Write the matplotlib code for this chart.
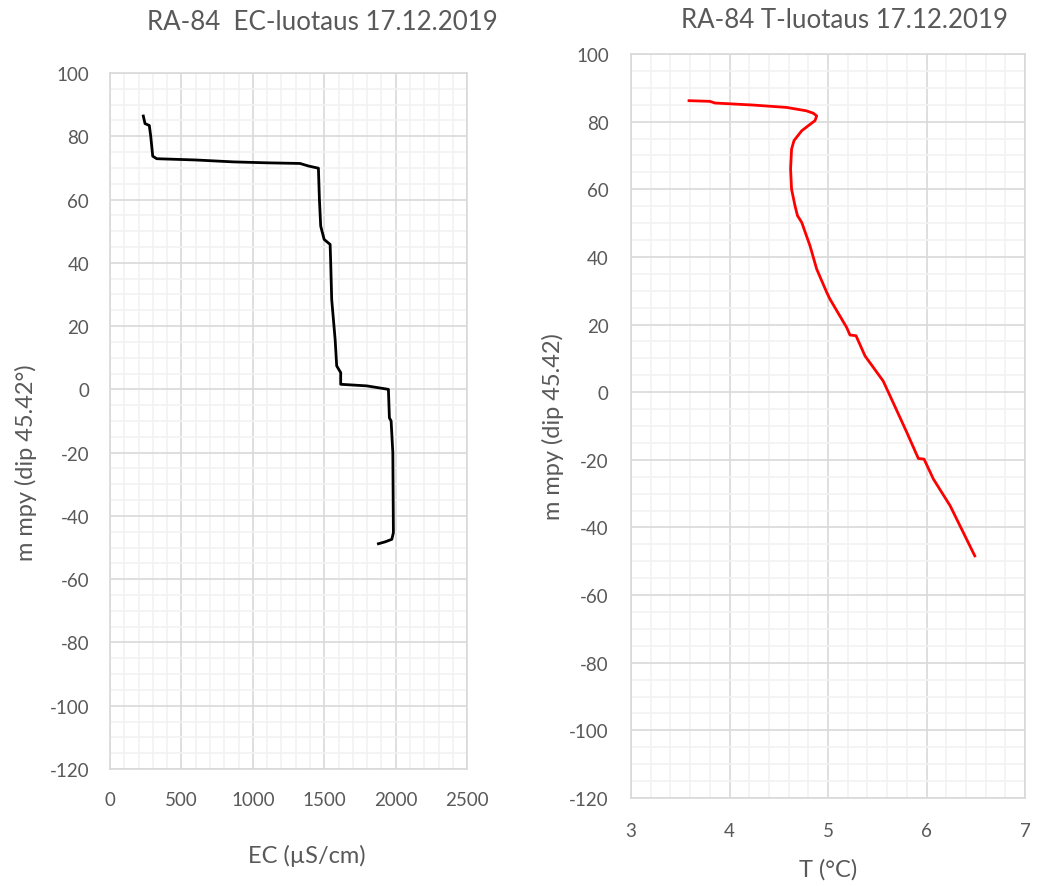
import matplotlib
matplotlib.use("Agg")
import matplotlib.pyplot as plt
from matplotlib.ticker import MultipleLocator

# EC profile (µS/cm vs m mpy)
ec_values = [233, 245, 275, 285, 299, 327, 600, 863, 1100, 1330, 1389, 1459, 1466, 1475, 1499,
             1541, 1545, 1552, 1576, 1587, 1615, 1615, 1797, 1949, 1956, 1968, 1980, 1984, 1973,
             1926, 1879]
ec_depth = [86.4, 84.0, 83.4, 80.0, 73.7, 72.9, 72.5, 71.9, 71.6, 71.4, 70.6, 69.9, 60.0, 51.6, 47.4,
            45.8, 40.0, 28.4, 15.8, 7.4, 5.3, 1.6, 1.1, 0.0, -9.0, -10.0, -20.0, -45.3, -47.4,
            -48.2, -48.8]

# Temperature profile (°C vs m mpy)
t_values = [3.589, 3.80, 3.853, 4.242, 4.58, 4.78, 4.85, 4.885, 4.868, 4.80, 4.733, 4.655, 4.63,
            4.62, 4.63, 4.665, 4.69, 4.733, 4.817, 4.885, 4.987, 5.02, 5.19, 5.223, 5.284, 5.376,
            5.56, 5.66, 5.80, 5.917, 5.975, 6.07, 6.24, 6.49]
t_depth = [86.2, 86.0, 85.5, 84.9, 84.2, 83.2, 82.5, 81.7, 80.3, 78.8, 77.3, 74.4, 71.9,
           66.0, 60.0, 55.1, 52.2, 50.2, 43.3, 36.4, 29.5, 27.5, 19.1, 16.9, 16.7, 10.7,
           3.3, -3.0, -11.9, -19.6, -19.8, -25.7, -33.6, -48.4]

titles = ["RA-84  EC-luotaus 17.12.2019", "RA-84 T-luotaus 17.12.2019"]
xlabels = ["EC (µS/cm)", "T (°C)"]
ylabels = ["m mpy (dip 45.42°)", "m mpy (dip 45.42)"]

plt.rcParams['font.family'] = ['Lato', 'DejaVu Sans']
plt.rcParams['axes.unicode_minus'] = False
TXT = "#595959"
MAJ = "#d9d9d9"
MIN = "#f2f2f2"

fig = plt.figure(figsize=(10.38, 8.87), dpi=100)
ax1 = fig.add_axes([0.106, 0.1319, 0.344, 0.7847])
ax2 = fig.add_axes([0.6079, 0.0992, 0.3796, 0.8388])

def style(ax, xlim, xmaj, xmin, xpad, ypad):
    ax.set_ylim(-120, 100)
    ax.set_xlim(*xlim)
    ax.xaxis.set_major_locator(MultipleLocator(xmaj))
    ax.xaxis.set_minor_locator(MultipleLocator(xmin))
    ax.yaxis.set_major_locator(MultipleLocator(20))
    ax.yaxis.set_minor_locator(MultipleLocator(5))
    ax.grid(which='major', color=MAJ, linewidth=1.2, zorder=0)
    ax.grid(which='minor', color=MIN, linewidth=1.2, zorder=0)
    ax.set_axisbelow(True)
    for s in ax.spines.values():
        s.set_color(MAJ)
        s.set_linewidth(1.2)
    ax.tick_params(which='both', length=0, labelsize=13.5, colors=TXT)
    ax.tick_params(axis='x', pad=xpad)
    ax.tick_params(axis='y', pad=ypad)

style(ax1, (0, 2500), 500, 100, 16, 15)
style(ax2, (3, 7), 1, 0.2, 17, 16)

ax1.plot(ec_values, ec_depth, color='black', linewidth=2.0, zorder=3)
ax2.plot(t_values, t_depth, color='#ff0000', linewidth=2.0, zorder=3)

for ax, xl, yl in zip([ax1, ax2], xlabels, ylabels):
    ax.set_xlabel(xl, fontsize=17, color=TXT, va='center')
    ax.set_ylabel(yl, fontsize=17, color=TXT, va='center')

ax1.xaxis.set_label_coords(0.552, -0.1236)
ax1.yaxis.set_label_coords(-0.235, 0.441)
ax2.xaxis.set_label_coords(0.5, -0.0954)
ax2.yaxis.set_label_coords(-0.198, 0.5)

fig.text(0.311, 0.975, titles[0], ha='center', va='center', fontsize=18.6, color=TXT)
fig.text(0.814, 0.977, titles[1], ha='center', va='center', fontsize=18.6, color=TXT)

fig.savefig("out.png", dpi=100)
